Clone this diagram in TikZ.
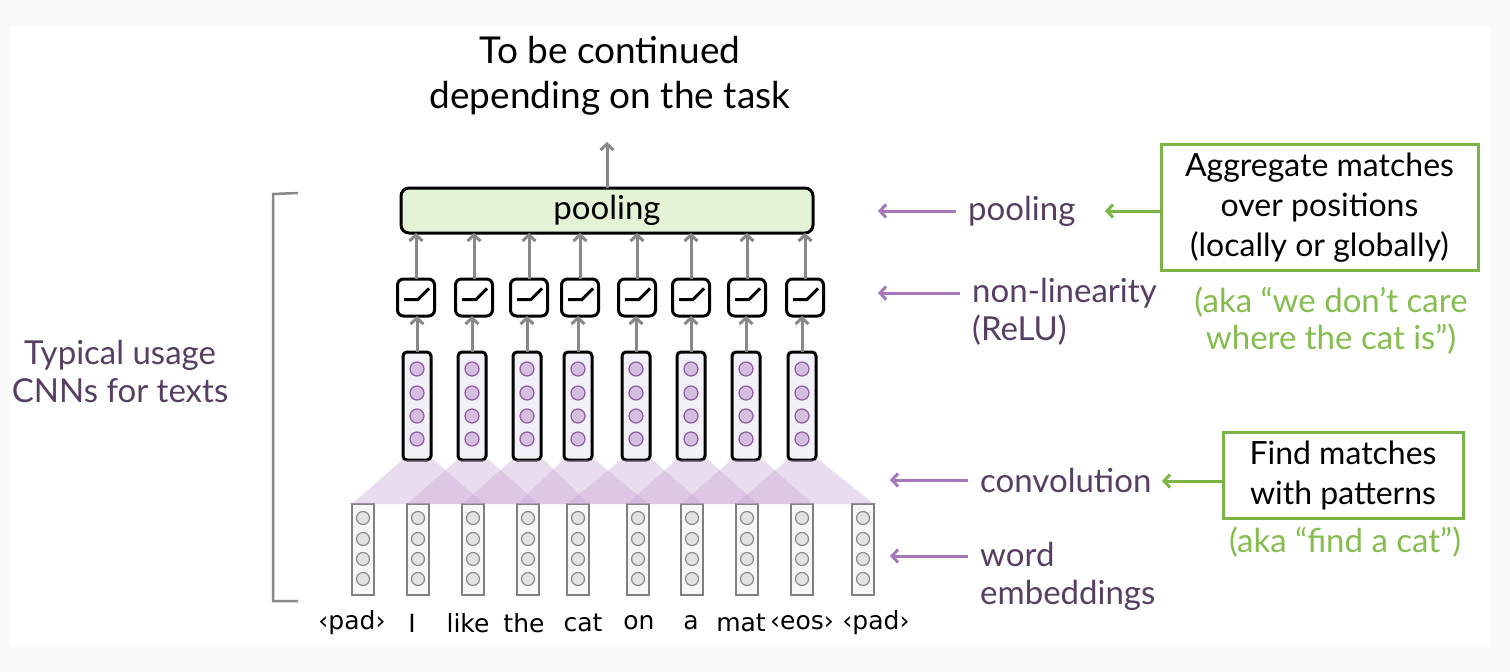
\documentclass[tikz,border=0pt]{standalone}
\usepackage{fontspec}
\setmainfont{Lato}
\newfontfamily\wordfont{DejaVu Sans}
\usetikzlibrary{arrows.meta}

\definecolor{bggray}{HTML}{FAFAFA}
\definecolor{txtpurple}{HTML}{563F62}
\definecolor{arrpurple}{HTML}{A677BD}
\definecolor{grnline}{HTML}{7DB446}
\definecolor{grntext}{HTML}{86BD4F}
\definecolor{poolfill}{HTML}{E4F2D6}
\definecolor{pboxfill}{HTML}{F3F0F7}
\definecolor{pdotfill}{HTML}{D5BDE0}
\definecolor{pdotline}{HTML}{8B5A9E}
\definecolor{eboxline}{HTML}{808080}
\definecolor{eboxfill}{HTML}{F7F7F7}
\definecolor{edotfill}{HTML}{E2E2E2}
\definecolor{edotline}{HTML}{8A8A8A}
\definecolor{convpurple}{HTML}{C8A5D5}
\definecolor{arrgray}{HTML}{888888}

\tikzset{
    embbox/.style={draw=eboxline, fill=eboxfill, line width=2.5pt, minimum width=22pt, minimum height=91pt, inner sep=0pt, outer sep=0pt},
    embdot/.style={draw=edotline, fill=edotfill, line width=1.2pt},
    convbox/.style={draw=black, fill=pboxfill, line width=3pt, rounded corners=4pt, minimum width=28pt, minimum height=108pt, inner sep=0pt, outer sep=0pt},
    convdot/.style={draw=pdotline, fill=pdotfill, line width=1.2pt},
    relubox/.style={draw=black, fill=white, line width=3pt, rounded corners=6pt, minimum size=37pt, inner sep=0pt, outer sep=0pt},
    convshade/.style={fill=convpurple, fill opacity=0.38},
    grayarrow/.style={draw=arrgray, line width=3pt, -{Straight Barb[length=6pt,width=13pt]}},
    purparrow/.style={draw=arrpurple, line width=3pt, -{Straight Barb[length=6pt,width=13pt]}},
    greenarrow/.style={draw=grnline, line width=3pt, -{Straight Barb[length=6pt,width=13pt]}},
    layerlabel/.style={text=txtpurple, font=\fontsize{33}{38}\selectfont, anchor=west, align=left, inner xsep=12pt, inner ysep=0pt},
    greenbox/.style={draw=grnline, line width=3pt, align=center, font=\fontsize{32}{40}\selectfont, inner sep=0pt},
    greennote/.style={text=grntext, align=center, font=\fontsize{33}{37}\selectfont},
    word/.style={font=\wordfont\fontsize{25}{28}\selectfont, inner sep=0pt}
}

\begin{document}
\begin{tikzpicture}[x=1pt,y=-1pt]
    \fill[bggray] (0,0) rectangle (1510,672);
    \fill[white] (10,27) rectangle (1490,647);
    \useasboundingbox (0,0) rectangle (1510,672);

    \node[align=center, font=\fontsize{37}{45}\selectfont] (title) at (610,76) {To be continued\\depending on the task};

    \foreach \x [count=\i] in {363,418,473,528,578,638,692,747,802,863} {
        \node[embbox] (e\i) at (\x,549.5) {};
        \foreach \y in {518,539,559,579}
            \draw[embdot] (\x,\y) circle (6.5);
    }
    \foreach \x/\w [count=\i] in {352/{‹pad›},412/I,468/like,524/the,583/cat,639/on,691/a,741/mat,802/{‹eos›},876/{‹pad›}}
        \node[word] (w\i) at (\x,623) {\w};

    \foreach \x [count=\i] in {417,472,527,578,636,691,746,802} {
        \node[convbox] (p\i) at (\x,406) {};
        \foreach \y in {369,393,416,439}
            \draw[convdot] (\x,\y) circle (7);
    }
    \foreach \i [evaluate=\i as \k using int(\i+2)] in {1,...,8}
        \fill[convshade] ([xshift=-1pt]p\i.south west) -- ([xshift=3pt]p\i.south east) -- (e\k.north east) -- (e\i.north west) -- cycle;

    \node[draw=black, fill=poolfill, line width=3pt, rounded corners=8pt, minimum width=412pt, minimum height=45pt, inner sep=0pt, outer sep=0pt, font=\fontsize{33}{36}\selectfont] (pool) at (607,210.5) {pooling};

    \foreach \x [count=\i] in {416,474,529,580,637,691,747,805} {
        \node[relubox] (r\i) at (\x,297.5) {};
        \draw[line width=3pt] ([shift={(-12,2)}]r\i.center) -- ++(14,0) -- ++(11,-11);
        \draw[grayarrow] (p\i.north) -- (p\i.north |- r\i.south);
        \draw[grayarrow] (r\i.north) -- (r\i.north |- pool.south);
    }
    \coordinate (up) at (607,142);
    \draw[grayarrow] (pool.north) -- (up);

    \draw[line width=2.5pt, draw=arrgray] (298,193) -- (273,194) -- (273,601) -- (298,601);
    \node[text=txtpurple, align=center, font=\fontsize{33}{38}\selectfont] (usage) at (120,371) {Typical usage\\CNNs for texts};

    \node[layerlabel] (lpool) at (956,211) {pooling};
    \node[layerlabel] (lrelu) at (960,312) {non-linearity\\(ReLU)};
    \node[layerlabel] (lconv) at (968,480) {convolution};
    \node[layerlabel] (lemb) at (968,576) {word\\embeddings};
    \coordinate (apool) at (878,211);
    \coordinate (arelu) at (878,293);
    \coordinate (aconv) at (890,480);
    \coordinate (aemb) at (890,556);
    \draw[purparrow] (lpool.west) -- (apool);
    \draw[purparrow] (lrelu.west |- arelu) -- (arelu);
    \draw[purparrow] (lconv.west) -- (aconv);
    \draw[purparrow] (lemb.west |- aemb) -- (aemb);

    \node[greenbox, minimum width=317pt, minimum height=126pt] (agg) at (1319.5,207.5) {Aggregate matches\\over positions\\(locally or globally)};
    \node[greennote] (aggnote) at (1331,321) {(aka “we don’t care\\where the cat is”)};
    \node[greenbox, minimum width=240pt, minimum height=86pt] (find) at (1343,475.5) {Find matches\\with patterns};
    \node[greennote] (findnote) at (1345,542) {(aka “find a cat”)};
    \coordinate (gpool) at (1105,211);
    \coordinate (gconv) at (1162,481);
    \draw[greenarrow] (agg.west |- gpool) -- (gpool);
    \draw[greenarrow] (find.west |- gconv) -- (gconv);
\end{tikzpicture}
\end{document}
